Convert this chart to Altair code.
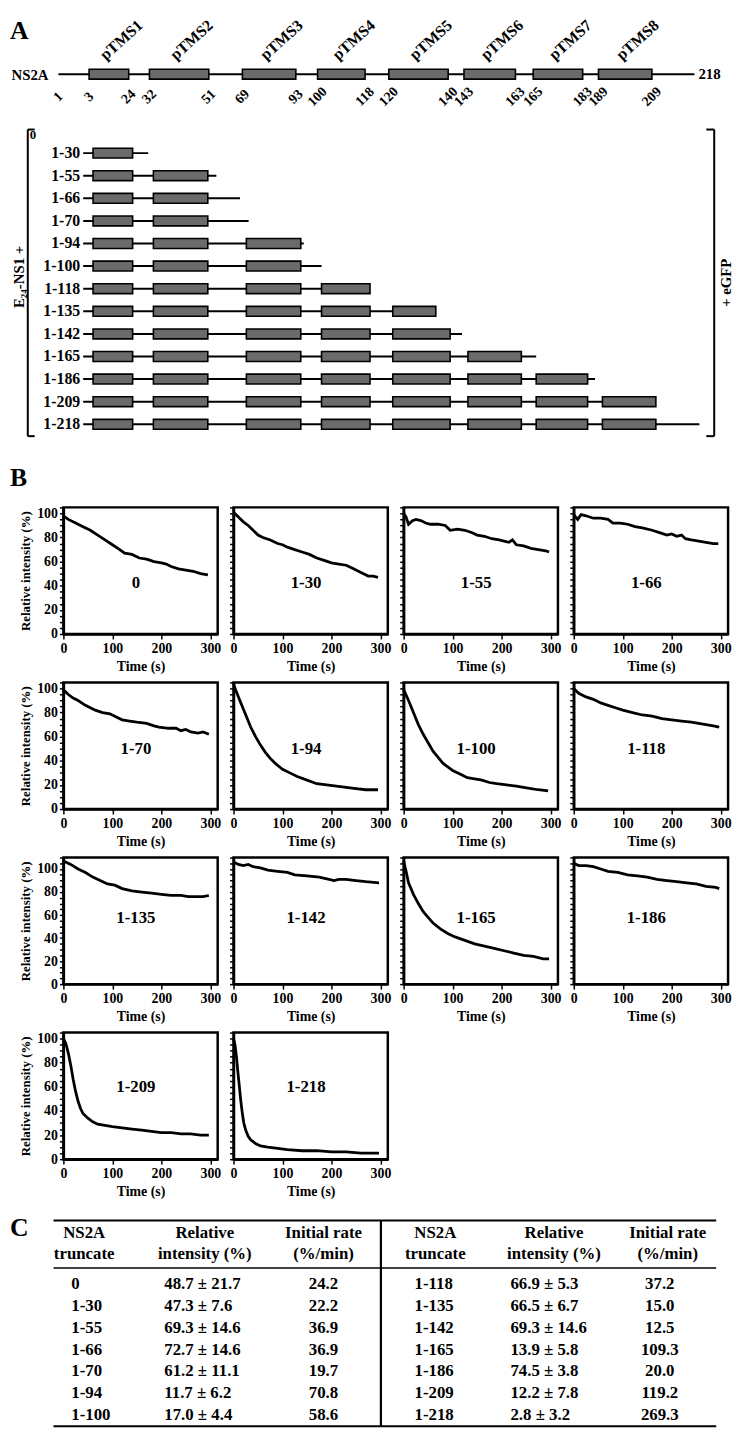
import altair as alt
import pandas as pd

FONT = "Liberation Serif"

# ---------------- Panel A data ----------------
tms_names = ["pTMS1", "pTMS2", "pTMS3", "pTMS4", "pTMS5", "pTMS6", "pTMS7", "pTMS8"]
tms_start = [3, 32, 69, 100, 120, 143, 165, 189]
tms_end = [24, 51, 93, 118, 140, 163, 183, 209]
ns2a_first = 1
ns2a_last = 218
constructs = ["0", "1-30", "1-55", "1-66", "1-70", "1-94", "1-100",
              "1-118", "1-135", "1-142", "1-165", "1-186", "1-209", "1-218"]
construct_end = [0, 30, 55, 66, 70, 94, 100, 118, 135, 142, 165, 186, 209, 218]

# ---------------- Panel B data (time s, relative intensity %) ----------------
t_0 = [0, 10, 25, 40, 55, 70, 85, 100, 115, 125, 140, 155, 170, 185, 200, 210, 220, 235, 250, 265, 280, 295]
v_0 = [98, 95, 92, 89, 86, 82, 78, 74, 70, 67, 66, 63, 62, 60, 59, 58, 56, 54, 53, 52, 50, 49]
t_30 = [0, 10, 20, 30, 40, 50, 60, 75, 90, 100, 110, 125, 140, 155, 170, 185, 200, 215, 230, 245, 260, 275, 285, 295]
v_30 = [101, 97, 93, 90, 86, 82, 80, 78, 75, 74, 72, 70, 68, 66, 63, 61, 59, 58, 57, 54, 51, 48, 48, 47]
t_55 = [0, 5, 10, 18, 25, 35, 45, 55, 70, 85, 95, 110, 125, 140, 150, 165, 180, 195, 205, 215, 222, 230, 245, 260, 275, 290, 297]
v_55 = [100, 97, 91, 94, 95, 94, 92, 91, 91, 90, 86, 87, 86, 84, 82, 81, 79, 78, 77, 76, 78, 74, 73, 71, 70, 69, 68]
t_66 = [0, 8, 15, 25, 40, 55, 70, 80, 95, 110, 125, 140, 160, 175, 190, 200, 210, 220, 228, 240, 255, 270, 285, 295]
v_66 = [99, 95, 99, 98, 96, 96, 95, 92, 92, 91, 89, 88, 86, 84, 82, 83, 81, 82, 79, 78, 77, 76, 75, 75]
t_70 = [0, 10, 20, 30, 45, 55, 65, 80, 95, 110, 120, 135, 150, 170, 185, 195, 215, 230, 240, 250, 260, 275, 285, 297]
v_70 = [99, 95, 92, 90, 86, 84, 82, 80, 79, 76, 74, 73, 72, 71, 69, 68, 67, 67, 65, 66, 64, 63, 64, 62]
t_94 = [0, 5, 15, 25, 35, 45, 55, 65, 75, 85, 100, 115, 130, 150, 170, 190, 210, 230, 250, 270, 295]
v_94 = [104, 98, 88, 78, 68, 60, 53, 47, 42, 38, 33, 30, 27, 24, 21, 20, 19, 18, 17, 16, 16]
t_100 = [0, 10, 20, 30, 40, 50, 60, 70, 80, 90, 100, 115, 130, 145, 160, 175, 190, 210, 230, 245, 260, 275, 295]
v_100 = [99, 90, 80, 70, 62, 55, 48, 43, 38, 35, 32, 29, 26, 25, 24, 22, 21, 20, 19, 18, 17, 16, 15]
t_118 = [0, 10, 25, 40, 55, 70, 85, 100, 120, 140, 160, 180, 200, 220, 240, 255, 270, 285, 297]
v_118 = [100, 96, 93, 91, 88, 86, 84, 82, 80, 78, 77, 75, 74, 73, 72, 71, 70, 69, 68]
t_135 = [0, 15, 30, 45, 60, 75, 90, 105, 120, 140, 160, 180, 200, 220, 240, 255, 270, 285, 297]
v_135 = [107, 104, 100, 97, 93, 90, 87, 86, 83, 81, 80, 79, 78, 77, 77, 76, 76, 76, 77]
t_142 = [0, 10, 20, 30, 40, 55, 70, 90, 110, 125, 150, 175, 195, 205, 215, 230, 250, 270, 297]
v_142 = [106, 104, 103, 104, 102, 101, 99, 98, 97, 95, 94, 93, 91, 90, 91, 91, 90, 89, 88]
t_165 = [0, 5, 10, 20, 30, 40, 50, 60, 75, 90, 105, 125, 145, 165, 185, 205, 225, 245, 265, 285, 297]
v_165 = [107, 98, 88, 78, 70, 63, 58, 53, 48, 44, 41, 38, 35, 33, 31, 29, 27, 25, 24, 22, 22]
t_186 = [0, 10, 25, 40, 55, 70, 90, 110, 130, 150, 170, 190, 210, 230, 250, 270, 290, 297]
v_186 = [105, 103, 103, 102, 100, 98, 97, 95, 94, 93, 91, 90, 89, 88, 87, 85, 84, 83]
t_209 = [0, 5, 10, 15, 20, 25, 30, 35, 40, 50, 60, 70, 85, 100, 120, 140, 160, 180, 200, 220, 240, 260, 280, 297]
v_209 = [100, 96, 88, 78, 66, 56, 48, 42, 38, 34, 31, 29, 28, 27, 26, 25, 24, 23, 22, 22, 21, 21, 20, 20]
t_218 = [0, 3, 6, 9, 12, 15, 18, 21, 25, 30, 35, 45, 55, 70, 90, 110, 140, 170, 200, 230, 260, 297]
v_218 = [100, 95, 85, 72, 60, 48, 38, 30, 24, 19, 16, 13, 11, 10, 9, 8, 7, 7, 6, 6, 5, 5]

curves = [(t_0, v_0), (t_30, v_30), (t_55, v_55), (t_66, v_66), (t_70, v_70),
          (t_94, v_94), (t_100, v_100), (t_118, v_118), (t_135, v_135),
          (t_142, v_142), (t_165, v_165), (t_186, v_186), (t_209, v_209),
          (t_218, v_218)]

# ---------------- Panel C data ----------------
rel_mean = [48.7, 47.3, 69.3, 72.7, 61.2, 11.7, 17.0, 66.9, 66.5, 69.3, 13.9, 74.5, 12.2, 2.8]
rel_sd = [21.7, 7.6, 14.6, 14.6, 11.1, 6.2, 4.4, 5.3, 6.7, 14.6, 5.8, 3.8, 7.8, 3.2]
init_rate = [24.2, 22.2, 36.9, 36.9, 19.7, 70.8, 58.6, 37.2, 15.0, 12.5, 109.3, 20.0, 119.2, 269.3]

# ---------------- layout / style (page pixel positions) ----------------
ORIGIN_X = 62            # page x of the layout origin (left edge of first B panel)
A_TOP_Y0 = 8
A_TOP_H = 100
A_TR_Y0 = A_TOP_Y0 + A_TOP_H
W, H = 156, 128          # B panel plot size
B_ROW1_TOP = 505
B_PITCH = 177
A_TR_H = B_ROW1_TOP - A_TR_Y0
C_ORIGIN = B_ROW1_TOP + 3 * B_PITCH     # origin of the last B row == origin of panel C
C_BOTTOM = 1435
GRAY = "#6b6b6b"


def px(page_x):
    return page_x - ORIGIN_X


breakpoints = sorted(set([ns2a_first, ns2a_last] + tms_start + tms_end))
# diagram is not drawn to scale: page x of each breakpoint
top_px = [57, 88, 128, 149, 209, 243, 297, 319, 367, 391, 451, 467, 519, 537, 587, 603, 657, 700]
trunc_px = [82, 92, 132, 153, 208, 247, 302, 323, 372, 395, 453, 471, 525, 540, 592, 607, 661, 705]
X_TOP = alt.Scale(domain=breakpoints, range=[px(p) for p in top_px], nice=False, zero=False)
X_TR = alt.Scale(domain=breakpoints, range=[px(p) for p in trunc_px], nice=False, zero=False)

one = pd.DataFrame({"k": [0]})


def fixed_text(label, x, y, size=14, align="center", baseline="middle", angle=None):
    mk = dict(align=align, baseline=baseline, fontSize=size)
    if angle is not None:
        mk["angle"] = angle
    return alt.Chart(pd.DataFrame({"label": [label]})).mark_text(**mk).encode(
        x=alt.value(x), y=alt.value(y), text="label:N")


def fixed_rule(x, x2, y, y2, w=2.0):
    return alt.Chart(one).mark_rule(color="black", strokeWidth=w).encode(
        x=alt.value(x), x2=alt.value(x2), y=alt.value(y), y2=alt.value(y2))


def spacer(height):
    return alt.Chart(one).mark_point(opacity=0, size=1).encode(
        x=alt.value(0), y=alt.value(0)).properties(width=672, height=height)


# ================= Panel A: full-length NS2A =================
tms_df = pd.DataFrame({"name": tms_names, "start": tms_start, "end": tms_end})
tms_df["mid"] = (tms_df["start"] + tms_df["end"]) / 2
full_df = pd.DataFrame({"start": [ns2a_first], "end": [ns2a_last], "lab": [str(ns2a_last)]})
num_vals = [ns2a_first] + [v for pair in zip(tms_start, tms_end) for v in pair]
num_df = pd.DataFrame({"pos": num_vals, "lab": [str(v) for v in num_vals]})

a_line = alt.Chart(full_df).mark_rule(color="black", strokeWidth=2).encode(
    x=alt.X("start:Q", scale=X_TOP, axis=None), x2="end:Q", y=alt.value(59))
a_boxes = alt.Chart(tms_df).mark_rect(fill=GRAY, stroke="black", strokeWidth=1.6).encode(
    x=alt.X("start:Q", scale=X_TOP, axis=None), x2="end:Q", y=alt.value(54), y2=alt.value(64))
a_names = alt.Chart(tms_df).mark_text(angle=318, fontSize=16, dx=17).encode(
    x=alt.X("mid:Q", scale=X_TOP, axis=None), y=alt.value(36), text="name:N")
a_nums = alt.Chart(num_df).mark_text(angle=315, fontSize=14).encode(
    x=alt.X("pos:Q", scale=X_TOP, axis=None), y=alt.value(82), text="lab:N")
a_end = alt.Chart(full_df).mark_text(align="left", fontSize=15, dx=4).encode(
    x=alt.X("end:Q", scale=X_TOP, axis=None), y=alt.value(59), text="lab:N")

A_top = alt.layer(
    a_line, a_boxes, a_names, a_nums, a_end,
    fixed_text("A", px(8), 2, size=26, align="left", baseline="top"),
    fixed_text("NS2A", px(47), 60, size=15, align="right"),
).properties(width=672, height=A_TOP_H)

# ================= Panel A: truncations =================
cons_df = pd.DataFrame({"name": constructs, "end": construct_end, "row": list(range(len(constructs)))})
cons_df["start"] = ns2a_first
back_df = cons_df[cons_df["end"] > 0]
box_rows = []
for name, end, row in zip(constructs, construct_end, range(len(constructs))):
    for s, e in zip(tms_start, tms_end):
        if s + 1 < end:
            box_rows.append({"name": name, "row": row, "start": s, "end": min(end, e)})
box_df = pd.DataFrame(box_rows)

Y_ROW = alt.Scale(domain=[0, len(constructs) - 1], range=[119 - A_TR_Y0, 426 - A_TR_Y0], nice=False, zero=False)

t_back = alt.Chart(back_df).mark_rule(color="black", strokeWidth=2).encode(
    x=alt.X("start:Q", scale=X_TR, axis=None), x2="end:Q",
    y=alt.Y("row:Q", scale=Y_ROW, axis=None))
t_boxes = alt.Chart(box_df).mark_bar(orient="horizontal", size=10, fill=GRAY, stroke="black", strokeWidth=1.6).encode(
    x=alt.X("start:Q", scale=X_TR, axis=None), x2="end:Q",
    y=alt.Y("row:Q", scale=Y_ROW, axis=None))
t_labels = alt.Chart(back_df).mark_text(align="right", fontSize=16).encode(
    x=alt.value(px(79)), y=alt.Y("row:Q", scale=Y_ROW, axis=None), text="name:N")
t_zero = alt.Chart(cons_df[cons_df["end"] == 0]).mark_text(align="left", fontSize=13, dy=5).encode(
    x=alt.value(px(28)), y=alt.Y("row:Q", scale=Y_ROW, axis=None), text="name:N")

br_top, br_bot = 123 - A_TR_Y0, 433 - A_TR_Y0
A_trunc = alt.layer(
    t_back, t_boxes, t_labels, t_zero,
    fixed_rule(px(26), px(26), br_top, br_bot),
    fixed_rule(px(26), px(33), br_top, br_top),
    fixed_rule(px(26), px(33), br_bot, br_bot),
    fixed_rule(px(720), px(720), br_top, br_bot),
    fixed_rule(px(712), px(720), br_top, br_top),
    fixed_rule(px(712), px(720), br_bot, br_bot),
    fixed_text("E\u2082\u2084-NS1 +", px(17), 272 - A_TR_Y0, size=15, angle=270),
    fixed_text("+ eGFP", px(732), 278 - A_TR_Y0, size=15, angle=270),
).properties(width=672, height=A_TR_H)

# ================= Panel B =================
row_top = [105, 105, 110, 105]
label_level = [42, 50, 57, 60]


def panel(i):
    r, c = divmod(i, 4)
    times, vals = curves[i]
    df = pd.DataFrame({"t": times, "v": vals})
    ymax = row_top[r]
    yticks = list(range(0, ymax + 1, 5))
    xaxis = alt.Axis(values=[0, 100, 200, 300], title="Time (s)", tickSize=5, tickWidth=1.5,
                     domainWidth=2.5, labelPadding=3, labelFlush=False, titlePadding=4,
                     labelFontSize=14, titleFontSize=14)
    if c == 0:
        yaxis = alt.Axis(values=yticks, title="Relative intensity (%)", tickSize=4, tickWidth=1.5,
                         domainWidth=2.5, labelPadding=2, labelOverlap=False,
                         labelExpr="datum.value % 20 === 0 && datum.value <= 100 ? datum.label : ''",
                         titlePadding=4, labelFontSize=14, titleFontSize=13)
    else:
        yaxis = alt.Axis(values=yticks, title=None, labels=False, tickSize=4, tickWidth=1.5,
                         domainWidth=2.5)
    line = alt.Chart(df).mark_line(color="black", strokeWidth=2.8).encode(
        x=alt.X("t:Q", scale=alt.Scale(domain=[0, 315], nice=False, zero=False), axis=xaxis),
        y=alt.Y("v:Q", scale=alt.Scale(domain=[0, ymax], nice=False), axis=yaxis))
    lab = fixed_text(constructs[i], W * 0.47, H * (1 - label_level[r] / ymax), size=17)
    layers = [line, lab]
    if i == 0:
        layers.append(fixed_text("B", -(ORIGIN_X - 8), 462 - B_ROW1_TOP, size=26, align="left", baseline="top"))
    return alt.layer(*layers).properties(
        width=W, height=H, view=alt.ViewBackground(stroke="black", strokeWidth=2.5))


panels = [panel(i) for i in range(len(constructs))]
rows = [alt.hconcat(*panels[k:k + 4], spacing=16, bounds="flush") for k in range(0, len(panels), 4)]

# ================= Panel C =================
def cy(page_y):
    return page_y - C_ORIGIN


table = pd.DataFrame({
    "name": constructs,
    "rel": [f"{m:.1f} \u00b1 {s:.1f}" for m, s in zip(rel_mean, rel_sd)],
    "rate": [f"{r:.1f}" for r in init_rate],
    "row": [i % 7 for i in range(len(constructs))],
})
left_tab = table.iloc[:7]
right_tab = table.iloc[7:]
Y_TAB = alt.Scale(domain=[0, 6], range=[cy(1290), cy(1423)], nice=False, zero=False)
TFS = 17


def tab_col(df, field, x, align):
    return alt.Chart(df).mark_text(align=align, baseline="middle", fontSize=TFS).encode(
        x=alt.value(x), y=alt.Y("row:Q", scale=Y_TAB, axis=None), text=f"{field}:N")


c_layers = [
    fixed_text("C", px(8), cy(1221), size=26, align="left", baseline="top"),
    fixed_rule(px(52), px(722), cy(1226), cy(1226), w=2.2),
    fixed_rule(px(52), px(722), cy(1274), cy(1274), w=1.6),
    fixed_rule(px(52), px(722), cy(1434), cy(1434), w=2.2),
    fixed_rule(px(383), px(383), cy(1226), cy(1434), w=2.2),
]
for x_name, x_rel, x_rate in [(83, 205, 325), (438, 558, 673)]:
    c_layers += [
        fixed_text("NS2A", px(x_name), cy(1239), size=TFS),
        fixed_text("truncate", px(x_name), cy(1260), size=TFS),
        fixed_text("Relative", px(x_rel), cy(1239), size=TFS),
        fixed_text("intensity  (%)", px(x_rel), cy(1260), size=TFS),
        fixed_text("Initial rate", px(x_rate), cy(1239), size=TFS),
        fixed_text("(%/min)", px(x_rate), cy(1260), size=TFS),
    ]
c_layers += [
    tab_col(left_tab, "name", px(70), "left"),
    tab_col(left_tab, "rel", px(164), "left"),
    tab_col(left_tab, "rate", px(325), "center"),
    tab_col(right_tab, "name", px(417), "left"),
    tab_col(right_tab, "rel", px(514), "left"),
    tab_col(right_tab, "rate", px(665), "center"),
]
C_chart = alt.layer(*c_layers).properties(width=672, height=C_BOTTOM - C_ORIGIN)

# flush layout: nested rows take no room, so spacers set the row pitch
stack = [A_top, A_trunc]
for k, row in enumerate(rows):
    stack.append(row)
    if k < len(rows) - 1:
        stack.append(spacer(B_PITCH))
stack.append(C_chart)

chart = alt.vconcat(*stack, spacing=0, bounds="flush").properties(
    padding=0
).configure_view(stroke=None).configure_text(
    font=FONT, fontWeight="bold", color="black"
).configure_axis(
    labelFont=FONT, titleFont=FONT, labelFontWeight="bold", titleFontWeight="bold",
    labelColor="black", titleColor="black", tickColor="black", domainColor="black", grid=False
)

chart.save("out.html", embed_options={"renderer": "svg", "actions": False})
